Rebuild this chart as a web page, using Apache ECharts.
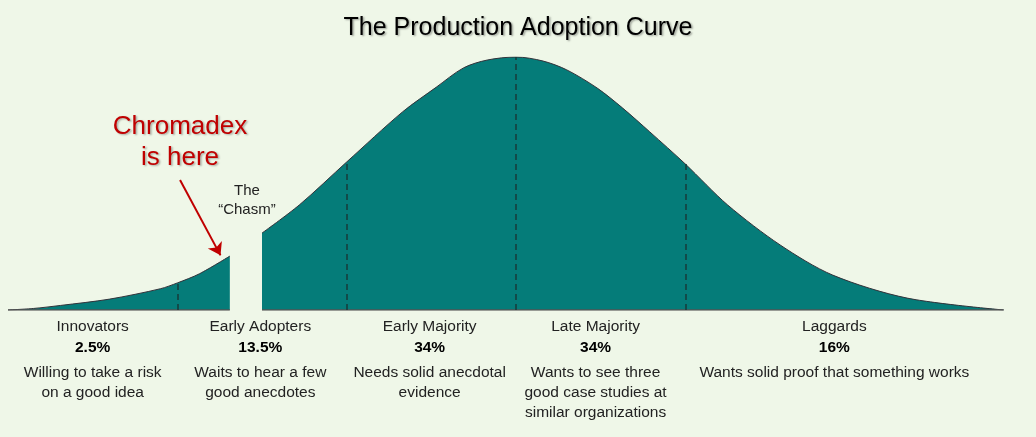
<!DOCTYPE html>
<html>
<head>
<meta charset="utf-8">
<script src="https://cdn.jsdelivr.net/npm/echarts@6/dist/echarts.min.js"></script>
<style>
html,body{margin:0;padding:0;background:#EFF7E8;}
#chart{width:1036px;height:437px;}
</style>
</head>
<body>
<div id="chart"></div>
<script>
// Curve, x in standard deviations from the mean, height as % of peak
const leftX  = [-3.0, -2.85, -2.69, -2.40, -2.10, -2.0, -1.87, -1.69];
const leftH  = [0, 0.6, 1.8, 4.3, 8.4, 10.7, 14.3, 21.3];
const rightX = [-1.50, -1.28, -1.0, -0.67, -0.47, -0.31, -0.17, 0, 0.16, 0.30, 0.48, 0.63, 0.79, 1.0, 1.25, 1.56, 1.87, 2.31, 2.88];
const rightH = [30.4, 41.5, 58.5, 78.3, 88.1, 95.7, 98.8, 100, 98.4, 94.9, 87.7, 79.8, 70.4, 57.7, 41.5, 25.7, 13.8, 4.7, 0];
// Segment dividers
const dividerX = [-2, -1, 0, 1];
const dividerH = [10.7, 58.5, 100, 57.7];
// Segment labels
const segNames   = ['Innovators', 'Early Adopters', 'Early Majority', 'Late Majority', 'Laggards'];
const segPcts    = ['2.5%', '13.5%', '34%', '34%', '16%'];
const segDescs   = ['Willing to take a risk\non a good idea', 'Waits to hear a few\ngood anecdotes', 'Needs solid anecdotal\nevidence', 'Wants to see three\ngood case studies at\nsimilar organizations', 'Wants solid proof that something works'];
const segCenters = [-2.5, -1.51, -0.51, 0.47, 1.88];
// Annotation arrow (start, tip) in data units
const arrowStart = [-1.984, 51.4];
const arrowTip   = [-1.745, 21.6];
const chasmX = -1.595;

const FONT = '"Liberation Sans", Arial, sans-serif';
const FILL = '#057C79';
const EDGE = '#33323A';

const zip = (xs, ys) => xs.map((x, i) => [x, ys[i]]);

const chart = echarts.init(document.getElementById('chart'));
chart.setOption({
  backgroundColor: '#EFF7E8',
  animation: false,
  grid: {left: 8, right: 12, top: 57, bottom: 127},
  xAxis: {type: 'value', min: -3, max: 3, show: false},
  yAxis: {type: 'value', min: 0, max: 100, show: false},
  series: [
    {
      type: 'line', data: zip(leftX, leftH), symbol: 'none', smooth: 0.3,
      lineStyle: {color: EDGE, width: 1}, areaStyle: {color: FILL, opacity: 1},
      z: 3
    },
    {
      type: 'line', data: zip(rightX, rightH), symbol: 'none', smooth: 0.3,
      lineStyle: {color: EDGE, width: 1}, areaStyle: {color: FILL, opacity: 1},
      markLine: {
        silent: true, animation: false, symbol: ['none', 'none'],
        lineStyle: {color: '#173A3A', width: 1.5, type: [6, 4]},
        label: {show: false},
        data: dividerX.map((x, i) => [{coord: [x, 0]}, {coord: [x, dividerH[i]]}])
      },
      z: 3
    },
    {
      type: 'line', data: [[leftX[0], 0], [leftX[leftX.length - 1], 0]], symbol: 'none',
      lineStyle: {color: '#555', width: 1.5}, z: 4
    },
    {
      type: 'line', data: [[rightX[0], 0], [rightX[rightX.length - 1], 0]], symbol: 'none',
      lineStyle: {color: '#555', width: 1.5}, z: 4
    },
    {
      type: 'line', data: [arrowStart, arrowTip], symbol: 'none',
      lineStyle: {color: 'transparent', width: 0},
      markLine: {
        silent: true, animation: false,
        symbol: ['none', 'arrow'], symbolSize: 12,
        lineStyle: {color: '#C00000', width: 2, type: 'solid'},
        itemStyle: {color: '#C00000'},
        label: {show: false},
        data: [[{coord: arrowStart}, {coord: arrowTip}]]
      },
      z: 6
    }
  ]
});

const px = x => chart.convertToPixel({xAxisIndex: 0}, x);
const graphics = [];
graphics.push({
  type: 'text', x: 518, y: 28, z: 10,
  style: {text: 'The Production Adoption Curve', font: '25px ' + FONT, fill: '#000',
    textAlign: 'center', textVerticalAlign: 'middle',
    textShadowColor: 'rgba(0,0,0,0.35)', textShadowBlur: 2, textShadowOffsetX: 1.5, textShadowOffsetY: 1.5}
});
graphics.push({
  type: 'text', x: px(arrowStart[0]), y: 142, z: 10,
  style: {text: 'Chromadex\nis here', font: '26px ' + FONT, fill: '#C00000', lineHeight: 31,
    textAlign: 'center', textVerticalAlign: 'middle',
    textShadowColor: 'rgba(0,0,0,0.3)', textShadowBlur: 2, textShadowOffsetX: 1.5, textShadowOffsetY: 1.5}
});
graphics.push({
  type: 'text', x: px(chasmX) + 1, y: 200, z: 10,
  style: {text: 'The\n\u201CChasm\u201D', font: '15px ' + FONT, fill: '#222', lineHeight: 19,
    textAlign: 'center', textVerticalAlign: 'middle'}
});
segNames.forEach((name, i) => {
  const x = px(segCenters[i]);
  graphics.push({type: 'text', x: x, y: 327, z: 10,
    style: {text: name, font: '15.5px ' + FONT, fill: '#222', textAlign: 'center', textVerticalAlign: 'middle'}});
  graphics.push({type: 'text', x: x, y: 348, z: 10,
    style: {text: segPcts[i], font: 'bold 15.5px ' + FONT, fill: '#000', textAlign: 'center', textVerticalAlign: 'middle'}});
  graphics.push({type: 'text', x: x, y: 363, z: 10,
    style: {text: segDescs[i], font: '15.5px ' + FONT, fill: '#222', lineHeight: 20, textAlign: 'center', textVerticalAlign: 'top'}});
});
chart.setOption({graphic: graphics});
</script>
</body>
</html>
